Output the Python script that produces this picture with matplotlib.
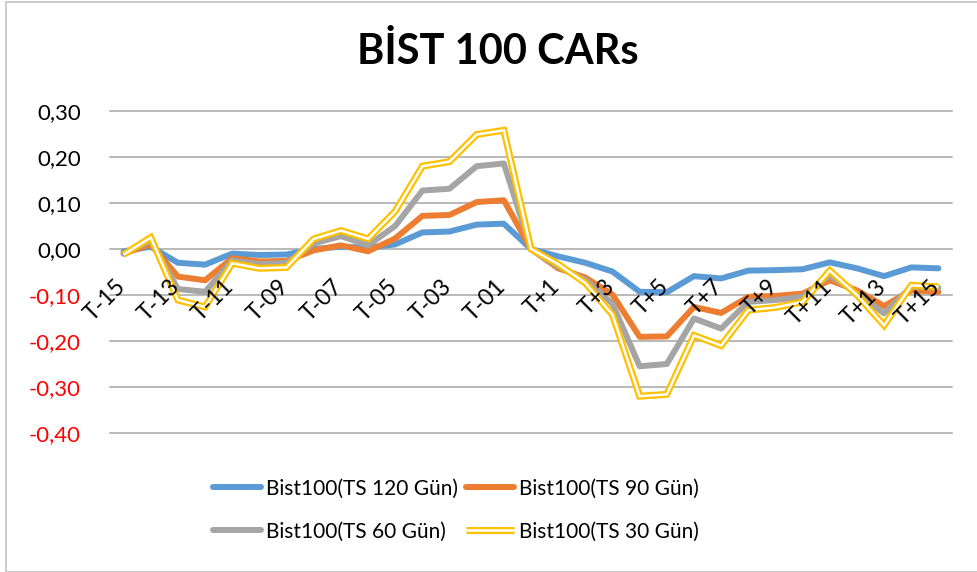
import matplotlib
matplotlib.use("Agg")
import matplotlib.pyplot as plt
import matplotlib.transforms as mtransforms
from matplotlib.patches import Rectangle

plt.rcParams["font.family"] = ["Lato", "DejaVu Sans"]

# event window T-15 .. T+15
categories = ([f"T-{k:02d}" for k in range(15, 0, -1)] + ["T0"]
              + [f"T+{k}" for k in range(1, 16)])

car_120 = [-0.005, 0.005, -0.030, -0.034, -0.010, -0.013, -0.012, 0.000, 0.005, 0.003,
           0.010, 0.036, 0.038, 0.053, 0.055, 0.000, -0.016, -0.030, -0.049, -0.093,
           -0.094, -0.059, -0.064, -0.047, -0.046, -0.044, -0.029, -0.042, -0.059, -0.040,
           -0.042]
car_90 = [-0.010, 0.010, -0.060, -0.068, -0.020, -0.027, -0.026, -0.003, 0.008, -0.005,
          0.023, 0.072, 0.074, 0.102, 0.106, 0.000, -0.042, -0.062, -0.099, -0.191,
          -0.190, -0.126, -0.139, -0.104, -0.102, -0.097, -0.068, -0.090, -0.124, -0.090,
          -0.093]
car_60 = [-0.010, 0.018, -0.087, -0.093, -0.025, -0.033, -0.030, 0.012, 0.028, 0.008,
          0.050, 0.127, 0.131, 0.180, 0.186, 0.000, -0.038, -0.067, -0.119, -0.255,
          -0.250, -0.151, -0.173, -0.115, -0.111, -0.104, -0.057, -0.097, -0.140, -0.082,
          -0.084]
car_30 = [-0.012, 0.025, -0.111, -0.126, -0.031, -0.042, -0.040, 0.022, 0.040, 0.022,
          0.082, 0.180, 0.190, 0.249, 0.258, 0.000, -0.033, -0.074, -0.143, -0.320,
          -0.316, -0.188, -0.210, -0.133, -0.127, -0.115, -0.047, -0.100, -0.166, -0.079,
          -0.082]

labels = ["Bist100(TS 120 Gün)", "Bist100(TS 90 Gün)",
          "Bist100(TS 60 Gün)", "Bist100(TS 30 Gün)"]
yticks = [0.30, 0.20, 0.10, 0.00, -0.10, -0.20, -0.30, -0.40]

W, H = 978, 572
fig = plt.figure(figsize=(W / 100, H / 100), dpi=100, facecolor="white")
fig.patches.append(Rectangle((6.5 / W, 0.5 / H), 1.0, (570 - 0.5) / H,
                             transform=fig.transFigure, fill=False,
                             edgecolor="#BFBFBF", lw=1.1))

ax = fig.add_axes([110 / W, 1 - 433 / H, 842 / W, 322 / H])
x = list(range(len(categories)))

kw = dict(solid_joinstyle="round", solid_capstyle="round")
h1, = ax.plot(x, car_120, color="#5B9BD5", lw=4.3, **kw)
h2, = ax.plot(x, car_90, color="#ED7D31", lw=4.3, **kw)
h3, = ax.plot(x, car_60, color="#A5A5A5", lw=4.3, **kw)
# 30-day series is a double (compound) line: yellow with a white core
h4a, = ax.plot(x, car_30, color="#FFC000", lw=5.0, solid_joinstyle="miter",
               solid_capstyle="butt")
h4b, = ax.plot(x, car_30, color="white", lw=1.8, solid_joinstyle="miter",
               solid_capstyle="butt")

ax.set_xlim(-0.5, len(categories) - 0.5)
ax.set_ylim(-0.40, 0.30)
ax.set_yticks(yticks)
ax.set_yticklabels([f"{v:.2f}".replace(".", ",") for v in yticks], fontsize=16)
for t, v in zip(ax.get_yticklabels(), yticks):
    t.set_color("red" if v < 0 else "black")
ax.tick_params(axis="y", length=0, pad=21)
ax.set_xticks([])
for s in ax.spines.values():
    s.set_visible(False)
ax.grid(axis="y", color="#A6A6A6", lw=1.1, zorder=0)
for gl in ax.get_ygridlines():
    gl.set_clip_on(False)
ax.set_axisbelow(True)

# category labels hang below the zero line, every other one
off = mtransforms.offset_copy(ax.transData, fig=fig, x=6, y=-27, units="dots")
for i in range(0, len(categories), 2):
    ax.text(i, 0, categories[i], transform=off, rotation=45, ha="right", va="top",
            fontsize=16.5, zorder=5)

fig.text(498 / W, 1 - 52 / H, "BİST 100 CARs", ha="center", va="center",
         fontsize=30, fontweight="bold")

leg = fig.legend([h1, h3, h2, (h4a, h4b)],
                 [labels[0], labels[2], labels[1], labels[3]],
                 ncol=2, loc="center", bbox_to_anchor=(456 / W, 1 - 510 / H),
                 frameon=False, fontsize=15, handlelength=2.3, handletextpad=0.25,
                 columnspacing=0.35, labelspacing=1.1, borderpad=0)

fig.savefig("out.png", dpi=100, facecolor="white")
